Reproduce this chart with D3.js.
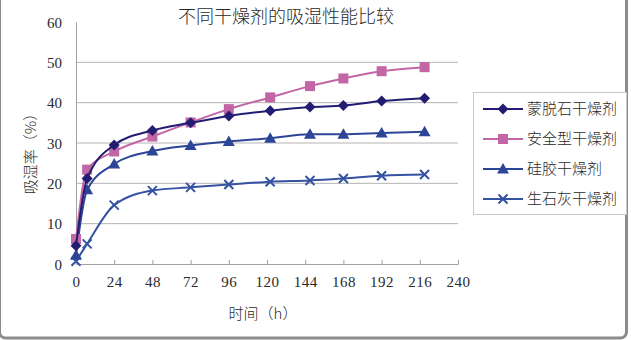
<!DOCTYPE html>
<html>
<head>
<meta charset="utf-8">
<script src="https://cdn.jsdelivr.net/npm/d3@7"></script>
<style>
  body { margin: 0; background: #fff; }
  text { font-family: "Liberation Serif", "Noto Sans CJK SC", serif; fill: #2a2a2a; }
  .cjk { font-family: "Noto Sans CJK SC", sans-serif; font-weight: 300; }
</style>
</head>
<body>
<div id="chart"></div>
<script>
// sampling times (h) and moisture uptake (%) for each desiccant
let hours = [0, 7, 24, 48, 72, 96, 122, 147, 168, 192, 219];
let montmorillonite = [4.5, 21.2, 29.5, 33.1, 35.0, 36.7, 38.0, 38.9, 39.3, 40.4, 41.1];
let safetyType = [6.2, 23.4, 27.9, 31.6, 35.1, 38.4, 41.3, 44.1, 46.0, 47.8, 48.8];
let silicaGel = [2.2, 18.4, 24.8, 28.0, 29.4, 30.4, 31.2, 32.2, 32.2, 32.5, 32.8];
let quicklime = [0.7, 5.0, 14.6, 18.2, 19.0, 19.7, 20.4, 20.7, 21.2, 21.9, 22.2];

let seriesNames = ["蒙脱石干燥剂", "安全型干燥剂", "硅胶干燥剂", "生石灰干燥剂"];
let xTicks = [0, 24, 48, 72, 96, 120, 144, 168, 192, 216, 240];
let yTicks = [0, 10, 20, 30, 40, 50, 60];

let series = [
  { name: seriesNames[0], values: montmorillonite, color: "#221d72", marker: "diamond" },
  { name: seriesNames[1], values: safetyType, color: "#c266a6", marker: "square" },
  { name: seriesNames[2], values: silicaGel, color: "#2c4597", marker: "triangle" },
  { name: seriesNames[3], values: quicklime, color: "#3552a3", marker: "cross" }
];

let width = 631, height = 340;

let svg = d3.select("#chart").append("svg")
  .attr("width", width)
  .attr("height", height);

// outer frame, rounded at the bottom right
svg.append("rect")
  .attr("x", -0.5).attr("y", -10)
  .attr("width", 627).attr("height", 348)
  .attr("rx", 6)
  .style("fill", "none")
  .style("stroke", "#8c8c8c")
  .style("stroke-width", 3);

let x = d3.scaleLinear().domain([0, 240]).range([76, 458]);
let y = d3.scaleLinear().domain([0, 60]).range([264, 22]);

// horizontal grid
svg.selectAll("line.grid")
  .data(yTicks.filter(d => d > 0 && d < 60))
  .enter()
  .append("line")
  .attr("class", "grid")
  .attr("x1", x(0)).attr("x2", x(240))
  .attr("y1", d => y(d)).attr("y2", d => y(d))
  .style("stroke", "#b4b4b4")
  .style("stroke-width", 1);

// y axis
let yAxis = svg.append("g")
  .attr("transform", `translate(${x(0)},0)`)
  .call(d3.axisLeft(y).tickValues(yTicks).tickSize(0).tickPadding(14));
yAxis.select(".domain").style("stroke", "#a0a0a0");
yAxis.selectAll("text").style("font-size", "15px").attr("dy", "0.35em");

// x axis with ticks pointing up into the plot
let xAxis = svg.append("g")
  .attr("transform", `translate(0,${y(0)})`)
  .call(d3.axisBottom(x).tickValues(xTicks).tickSizeInner(-4).tickSizeOuter(0).tickPadding(18));
xAxis.select(".domain").style("stroke", "#a0a0a0");
xAxis.selectAll(".tick line").style("stroke", "#a0a0a0");
xAxis.selectAll("text").style("font-size", "15px").attr("dy", "0.35em");
xAxis.selectAll("text").style("letter-spacing", "0.5px");

// titles
svg.append("text")
  .attr("class", "cjk")
  .attr("x", 286).attr("y", 23)
  .attr("text-anchor", "middle")
  .style("font-size", "18px")
  .text("不同干燥剂的吸湿性能比较");

svg.append("text")
  .attr("class", "cjk")
  .attr("x", 263).attr("y", 319)
  .attr("text-anchor", "middle")
  .style("font-size", "15px")
  .text("时间（h）");

svg.append("text")
  .attr("class", "cjk")
  .attr("transform", "translate(36,150) rotate(-90)")
  .attr("text-anchor", "middle")
  .style("font-size", "15px")
  .text("吸湿率（%）");

// marker shapes
function drawMarker(g, type, color) {
  if (type === "diamond") {
    g.append("path").attr("d", "M0,-5.5L5.5,0L0,5.5L-5.5,0Z").style("fill", color);
  } else if (type === "square") {
    g.append("rect").attr("x", -5).attr("y", -5).attr("width", 10).attr("height", 10).style("fill", color);
  } else if (type === "triangle") {
    g.append("path").attr("d", "M0,-6L6,4.5L-6,4.5Z").style("fill", color);
  } else {
    g.append("path").attr("d", "M-4.5,-4.5L4.5,4.5M-4.5,4.5L4.5,-4.5")
      .style("stroke", color).style("stroke-width", 2).style("fill", "none");
  }
}

let line = d3.line()
  .x((d, i) => x(hours[i]))
  .y(d => y(d))
  .curve(d3.curveMonotoneX);

// draw in reverse so the first series ends up on top
let seriesG = svg.selectAll("g.series")
  .data(series.slice().reverse())
  .enter()
  .append("g")
  .attr("class", "series");

seriesG.append("path")
  .attr("d", d => line(d.values))
  .style("fill", "none")
  .style("stroke", d => d.color)
  .style("stroke-width", 2);

seriesG.each(function(s) {
  d3.select(this).selectAll("g.pt")
    .data(s.values)
    .enter()
    .append("g")
    .attr("class", "pt")
    .attr("transform", (d, i) => `translate(${x(hours[i])},${y(d)})`)
    .each(function() { drawMarker(d3.select(this), s.marker, s.color); });
});

// legend
let legend = svg.append("g");
legend.append("rect")
  .attr("x", 473.5).attr("y", 92.5)
  .attr("width", 153).attr("height", 122)
  .style("fill", "#fff")
  .style("stroke", "#c8c8c8");

let items = legend.selectAll("g.item")
  .data(series)
  .enter()
  .append("g")
  .attr("class", "item")
  .attr("transform", (d, i) => `translate(0,${109 + i * 30})`);

items.append("line")
  .attr("x1", 483).attr("x2", 523)
  .attr("y1", 0).attr("y2", 0)
  .style("stroke", d => d.color)
  .style("stroke-width", 2);

items.each(function(s) {
  let g = d3.select(this).append("g").attr("transform", "translate(503,0)");
  drawMarker(g, s.marker, s.color);
});

items.append("text")
  .attr("class", "cjk")
  .attr("x", 527).attr("y", 0)
  .attr("dy", "0.35em")
  .style("font-size", "15px")
  .text(d => d.name);
</script>
</body>
</html>
